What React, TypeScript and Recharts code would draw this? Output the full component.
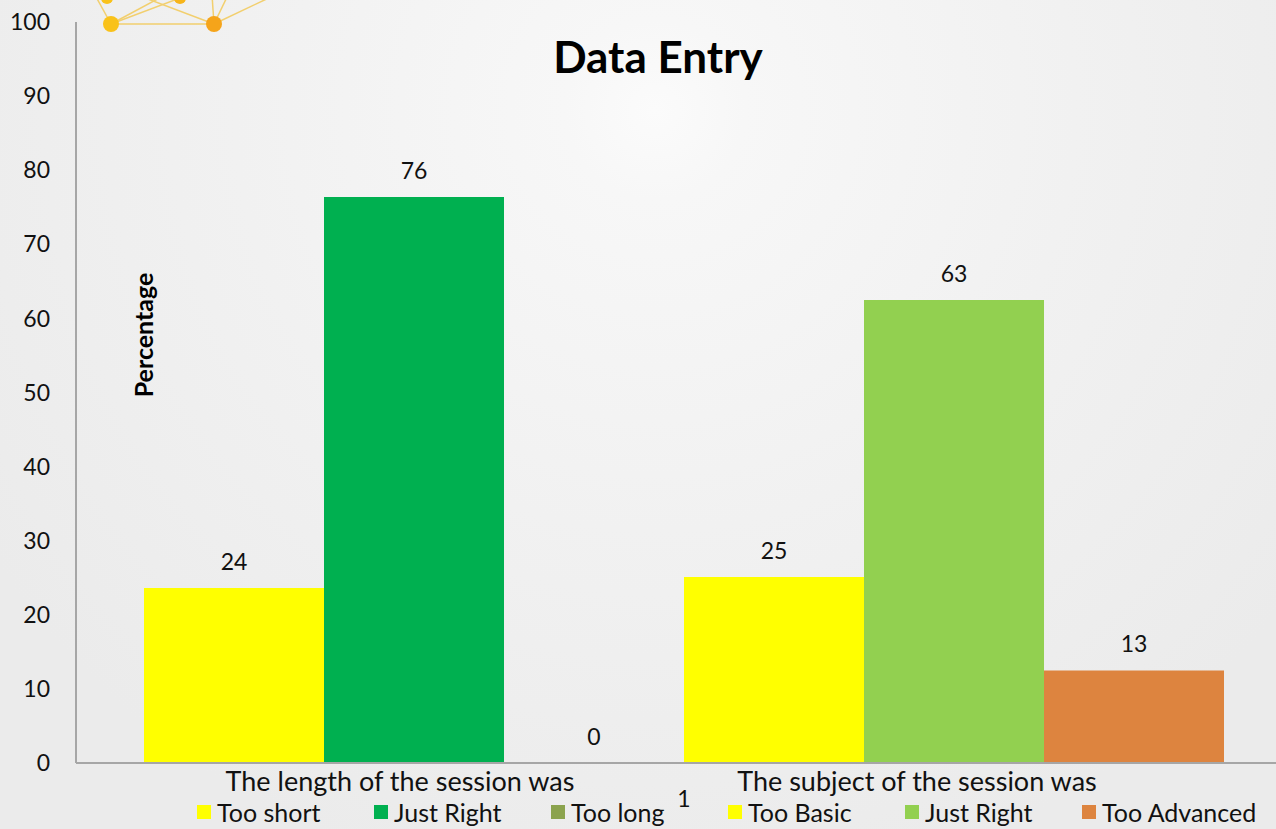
import React from 'react';
import { BarChart, Bar, XAxis, YAxis, LabelList } from 'recharts';

// one category, six answer series (percentages)
const categories = ['1'];
const seriesNames = ['Too short', 'Just Right', 'Too long', 'Too Basic', 'Just Right', 'Too Advanced'];
const seriesKeys = ['tooShort', 'justRight1', 'tooLong', 'tooBasic', 'justRight2', 'tooAdvanced'];
const seriesValues = [23.6, 76.4, 0, 25.1, 62.5, 12.5];
const seriesColors = ['#FFFF00', '#00B050', '#8BA34E', '#FFFF00', '#92D050', '#DD843F'];
const yTicks = [0, 10, 20, 30, 40, 50, 60, 70, 80, 90, 100];
const groupLabels = ['The length of the session was', 'The subject of the session was'];

const data = categories.map((c) => {
  const row: any = { name: c };
  seriesKeys.forEach((k, i) => (row[k] = seriesValues[i]));
  return row;
});

const FONT = 'Lato, "Open Sans", sans-serif';

export default function App() {
  return (
    <div
      style={{
        position: 'absolute',
        left: 0,
        top: 0,
        width: 1276,
        height: 829,
        overflow: 'hidden',
        background:
          'radial-gradient(circle at 655px 110px, #fbfbfb 0px, #f7f7f7 90px, #f1f1f1 420px, #ebebeb 800px)',
      }}
    >
      {/* decoration top-left */}
      <svg width={320} height={40} style={{ position: 'absolute', left: 0, top: 0 }}>
        <g stroke="#f2cf6e" strokeWidth={1.5} fill="none">
          <line x1={111} y1={24} x2={214} y2={24} />
          <line x1={111} y1={24} x2={180} y2={-2} />
          <line x1={111} y1={24} x2={165} y2={-5} />
          <line x1={111} y1={24} x2={95} y2={-5} />
          <line x1={214} y1={24} x2={140} y2={-4} />
          <line x1={214} y1={24} x2={212} y2={-5} />
          <line x1={214} y1={24} x2={228} y2={-5} />
          <line x1={214} y1={24} x2={275} y2={-5} />
        </g>
        <circle cx={111} cy={24} r={8} fill="#f9c21a" />
        <circle cx={214} cy={24} r={8} fill="#f5a41a" />
        <circle cx={107} cy={-2} r={6} fill="#f9c21a" />
        <circle cx={180} cy={-2} r={6} fill="#f7b51a" />
      </svg>

      <div
        style={{
          position: 'absolute',
          left: 0,
          width: 1316,
          top: 30,
          textAlign: 'center',
          fontFamily: FONT,
          fontWeight: 700,
          fontSize: 44,
          color: '#000',
        }}
      >
        Data Entry
      </div>

      <BarChart
        width={1292}
        height={829}
        data={data}
        margin={{ top: 22, right: 0, left: 0, bottom: 0 }}
        barCategoryGap={68}
        barGap={0}
        style={{ position: 'absolute', left: 0, top: 0 }}
      >
        <XAxis
          dataKey="name"
          height={66}
          axisLine={{ stroke: '#a6a6a6', strokeWidth: 2 }}
          tickLine={false}
          tick={{ fill: '#111', fontSize: 23, fontFamily: FONT }}
          dy={20}
        />
        <YAxis
          width={76}
          domain={[0, 100]}
          ticks={yTicks}
          interval={0}
          axisLine={{ stroke: '#a6a6a6', strokeWidth: 2 }}
          tickLine={false}
          tickMargin={20}
          tick={{ fill: '#111', fontSize: 23, fontFamily: FONT }}
        />
        {seriesKeys.map((k, i) => (
          <Bar
            key={k}
            dataKey={k}
            name={seriesNames[i]}
            fill={seriesColors[i]}
            minPointSize={0.001}
            isAnimationActive={false}
          >
            <LabelList
              dataKey={k}
              position="top"
              offset={18}
              formatter={(v: any) => String(Math.round(Number(v)))}
              style={{ fill: '#111', fontSize: 23, fontFamily: FONT }}
            />
          </Bar>
        ))}
      </BarChart>

      <div
        style={{
          position: 'absolute',
          left: 93,
          top: 260,
          width: 100,
          height: 150,
          display: 'flex',
          alignItems: 'center',
          justifyContent: 'center',
        }}
      >
        <div style={{ transform: 'rotate(-90deg)', fontFamily: FONT, fontWeight: 700, fontSize: 25, whiteSpace: 'nowrap' }}>
          Percentage
        </div>
      </div>

      {groupLabels.map((g, i) => (
        <div
          key={g}
          style={{
            position: 'absolute',
            left: i === 0 ? 200 : 717,
            width: 400,
            top: 764,
            textAlign: 'center',
            fontFamily: FONT,
            fontSize: 27,
            color: '#111',
          }}
        >
          {g}
        </div>
      ))}

      {/* legend */}
      <div
        style={{
          position: 'absolute',
          left: 197,
          top: 797,
          display: 'flex',
          fontFamily: FONT,
          fontSize: 25,
          color: '#111',
        }}
      >
        {seriesNames.map((n, i) => (
          <div key={i} style={{ width: 177, display: 'flex', alignItems: 'center' }}>
            <span style={{ width: 14, height: 14, background: seriesColors[i], marginRight: 6, display: 'inline-block' }} />
            <span>{n}</span>
          </div>
        ))}
      </div>
    </div>
  );
}
